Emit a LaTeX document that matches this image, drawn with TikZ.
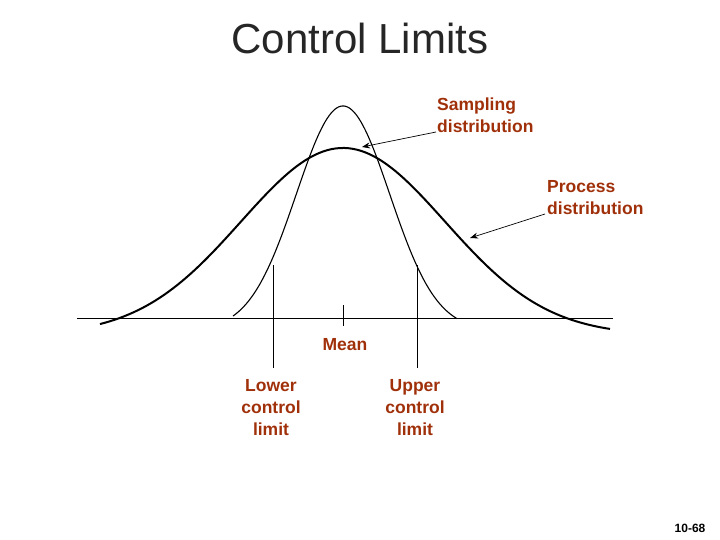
\documentclass[tikz,border=0pt]{standalone}
\usepackage{fontspec}
\setmainfont{Liberation Sans}
\usetikzlibrary{arrows.meta}
\definecolor{lab}{HTML}{A0300A}
\begin{document}
\begin{tikzpicture}[x=1pt,y=-1pt,
  lbl/.style={text=lab,font=\bfseries\fontsize{17.5}{22}\selectfont,align=center,inner sep=0pt},
  arr/.style={-{Stealth[length=8pt,width=6pt]},line width=0.7pt}]
\useasboundingbox (0,0) rectangle (720,540);
\node[font=\fontsize{42}{46}\selectfont,text=black!85] (title) at (360,38) {Control Limits};
\draw[line width=0.6pt] (77,318) -- (613,318);
\draw[line width=2pt] plot[domain=100:610,samples=120] (\x,{335-187*exp(-((\x-343)/102)^2/2)});
\draw[line width=1.1pt] plot[domain=233:457,samples=120] (\x,{330-224*exp(-((\x-343)/46.7)^2/2)});
\draw[line width=0.6pt] (273,265) -- (273,368);
\draw[line width=0.6pt] (417,265) -- (417,368);
\draw[line width=1pt] (343,305) -- (343,326);
\node[lbl] (mean) at (345,345) {Mean};
\node[lbl] (lcl) at (271,408) {Lower\\control\\limit};
\node[lbl] (ucl) at (415,408) {Upper\\control\\limit};
\node[lbl,align=left,anchor=west] (samp) at (437,115) {Sampling\\distribution};
\node[lbl,align=left,anchor=west] (proc) at (547,198) {Process\\distribution};
\coordinate (sa) at (362,147);
\coordinate (pa) at (470,238);
\coordinate (st) at (436,132);
\coordinate (pt) at (545,214);
\draw[arr] (st) -- (sa);
\draw[arr] (pt) -- (pa);
\node[font=\bfseries\fontsize{12}{14}\selectfont] (pg) at (690,528) {10-68};
\end{tikzpicture}
\end{document}
